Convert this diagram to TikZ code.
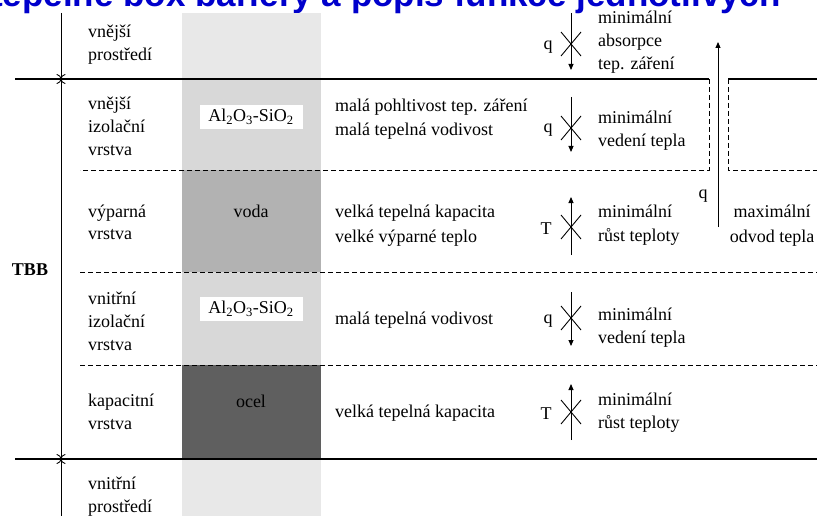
\documentclass[tikz,border=0pt]{standalone}
\usepackage{fontspec}
\setmainfont{Liberation Serif}
\newfontfamily\titlefont{Liberation Sans}
\usetikzlibrary{arrows.meta}
\definecolor{titleblue}{RGB}{0,0,204}
\definecolor{envgray}{RGB}{232,232,232}
\definecolor{isogray}{RGB}{216,216,216}
\definecolor{watergray}{RGB}{178,178,178}
\definecolor{steelgray}{RGB}{95,95,95}
\begin{document}
\begin{tikzpicture}[x=1pt,y=-1pt,
  font=\fontsize{18}{22}\selectfont,
  txt/.style={inner sep=0pt, anchor=base west},
  ctxt/.style={inner sep=0pt, anchor=base},
  thickline/.style={line width=2.6pt},
  thinline/.style={line width=0.9pt},
  dashline/.style={line width=0.9pt, dash pattern=on 5pt off 3pt},
  flow/.style={line width=0.9pt, -{Triangle[length=6pt,width=5pt]}},
  dim/.style={line width=0.9pt},
  matbox/.style={fill=white, inner sep=0pt, minimum width=103pt, minimum height=24pt},
  xmark/.pic={\draw[line width=0.9pt] (-10,-12) -- (10,12) (-10,12) -- (10,-12);}
]
\useasboundingbox (0,0) rectangle (817,516);
\clip (0,0) rectangle (817,516);

% title (cut off at the top)
\node[anchor=base west, inner sep=0pt, text=titleblue,
      font=\titlefont\bfseries\fontsize{35}{35}\selectfont] (title) at (-9,7)
  {tepelné box bariéry a popis funkce jednotlivých};

% material column
\fill[envgray]   (182,13)  rectangle (321,79);
\fill[isogray]   (182,79)  rectangle (321,170);
\fill[watergray] (182,170) rectangle (321,272);
\fill[isogray]   (182,272) rectangle (321,365);
\fill[steelgray] (182,365) rectangle (321,459);
\fill[envgray]   (182,459) rectangle (321,516);

% layer boundaries
\draw[thickline] (15,79) -- (709,79);
\draw[thickline] (728,79) -- (817,79);
\draw[dashline] (709,79) -- (709,170) -- (80,170);
\draw[dashline] (728,79) -- (728,170) -- (817,170);
\draw[dashline] (80,272) -- (817,272);
\draw[dashline] (80,365) -- (817,365);
\draw[thickline] (15,459) -- (817,459);

% dimension line on the left
\coordinate (dtop) at (61,13);
\coordinate (dout) at (61,79);
\coordinate (din) at (61,459);
\coordinate (dbot) at (61,516);
\draw[dim, -{To[length=5pt,width=9pt]}] (dtop) -- (dout);
\draw[dim, {To[length=5pt,width=9pt]}-{To[length=5pt,width=9pt]}] (dout) -- (din);
\draw[dim, {To[length=5pt,width=9pt]}-] (din) -- (dbot);
\node[inner sep=0pt, anchor=base, font=\fontsize{18}{22}\selectfont\bfseries] (tbb) at (30,275) {TBB};

% layer names
\node[txt] (l1a) at (88,38) {vnější};
\node[txt] (l1b) at (88,61) {prostředí};
\node[txt] (l2a) at (88,110) {vnější};
\node[txt] (l2b) at (88,133) {izolační};
\node[txt] (l2c) at (88,156) {vrstva};
\node[txt] (l3a) at (88,217) {výparná};
\node[txt] (l3b) at (88,240) {vrstva};
\node[txt] (l4a) at (88,304) {vnitřní};
\node[txt] (l4b) at (88,327) {izolační};
\node[txt] (l4c) at (88,350) {vrstva};
\node[txt] (l5a) at (88,406) {kapacitní};
\node[txt] (l5b) at (88,429) {vrstva};
\node[txt] (l6a) at (88,489) {vnitřní};
\node[txt] (l6b) at (88,512) {prostředí};

% materials
\node[matbox] (m1) at (251,117) {Al\textsubscript{2}O\textsubscript{3}-SiO\textsubscript{2}};
\node[ctxt] (m2) at (251,218) {voda};
\node[matbox] (m3) at (251,309) {Al\textsubscript{2}O\textsubscript{3}-SiO\textsubscript{2}};
\node[ctxt] (m4) at (251,407) {ocel};

% properties
\node[txt] (p1a) at (335,112) {malá pohltivost tep. záření};
\node[txt] (p1b) at (335,136) {malá tepelná vodivost};
\node[txt] (p2a) at (335,218) {velká tepelná kapacita};
\node[txt] (p2b) at (335,242) {velké výparné teplo};
\node[txt] (p3a) at (335,324) {malá tepelná vodivost};
\node[txt] (p4a) at (335,417) {velká tepelná kapacita};

% blocked flows
\coordinate (a1s) at (571,13);  \coordinate (a1e) at (571,70);
\coordinate (a2s) at (571,97);  \coordinate (a2e) at (571,152);
\coordinate (a3s) at (571,255); \coordinate (a3e) at (571,197);
\coordinate (a4s) at (571,292); \coordinate (a4e) at (571,346);
\coordinate (a5s) at (571,440); \coordinate (a5e) at (571,384);
\draw[flow] (a1s) -- (a1e);
\draw[flow] (a2s) -- (a2e);
\draw[flow] (a3s) -- (a3e);
\draw[flow] (a4s) -- (a4e);
\draw[flow] (a5s) -- (a5e);
\pic at (571,44) {xmark};
\pic at (571,128) {xmark};
\pic at (571,227) {xmark};
\pic at (571,318) {xmark};
\pic at (571,412) {xmark};
\node[ctxt] (q1) at (548,50) {q};
\node[ctxt] (q2) at (548,133) {q};
\node[ctxt] (t3) at (546,234) {T};
\node[ctxt] (q4) at (548,323) {q};
\node[ctxt] (t5) at (546,419) {T};

% effects
\node[txt] (e1a) at (598,24) {minimální};
\node[txt] (e1b) at (598,47) {absorpce};
\node[txt] (e1c) at (598,70) {tep. záření};
\node[txt] (e2a) at (598,124) {minimální};
\node[txt] (e2b) at (598,147) {vedení tepla};
\node[txt] (e3a) at (598,217) {minimální};
\node[txt] (e3b) at (598,241) {růst teploty};
\node[txt] (e4a) at (598,320) {minimální};
\node[txt] (e4b) at (598,343) {vedení tepla};
\node[txt] (e5a) at (598,405) {minimální};
\node[txt] (e5b) at (598,428) {růst teploty};

% heat removal
\coordinate (hs) at (718,227);
\coordinate (he) at (718,42);
\draw[flow] (hs) -- (he);
\node[ctxt] (qh) at (703,199) {q};
\node[ctxt] (h1) at (772,218) {maximální};
\node[ctxt] (h2) at (772,242) {odvod tepla};
\end{tikzpicture}
\end{document}
